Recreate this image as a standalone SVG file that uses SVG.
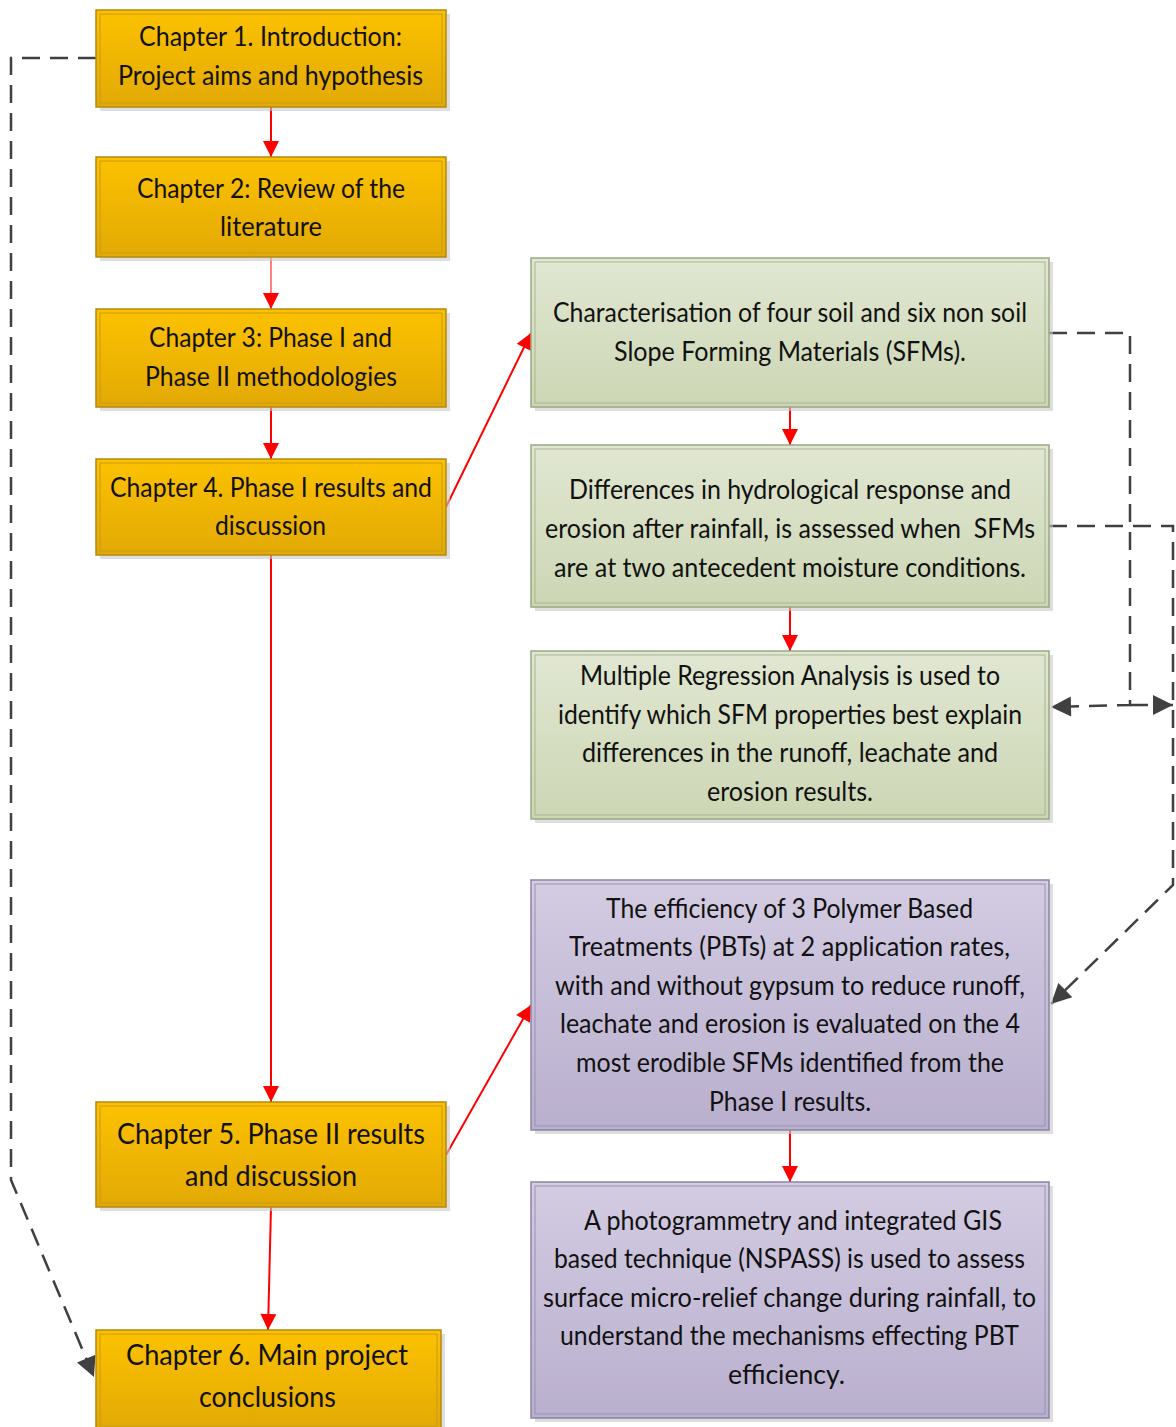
<svg xmlns="http://www.w3.org/2000/svg" width="1176" height="1427" viewBox="0 0 1176 1427">
<defs>
<linearGradient id="gO" x1="0" y1="0" x2="0" y2="1"><stop offset="0" stop-color="#FCC200"/><stop offset="1" stop-color="#E2A905"/></linearGradient>
<linearGradient id="gG" x1="0" y1="0" x2="0" y2="1"><stop offset="0" stop-color="#E1E7D2"/><stop offset="1" stop-color="#CCD6B4"/></linearGradient>
<linearGradient id="gP" x1="0" y1="0" x2="0" y2="1"><stop offset="0" stop-color="#D3CCE2"/><stop offset="1" stop-color="#B9AFCE"/></linearGradient>
<marker id="aR" viewBox="0 0 10 10" refX="10" refY="5" markerWidth="6" markerHeight="6" markerUnits="userSpaceOnUse" orient="auto" style="overflow:visible">
<path d="M0,0 L10,5 L0,10 z" fill="#FF0000" transform="scale(1)"/></marker>
<marker id="aD" viewBox="0 0 10 10" refX="10" refY="5" markerWidth="24" markerHeight="20" markerUnits="userSpaceOnUse" orient="auto">
<path d="M0,0 L10,5 L0,10 z" fill="#404040"/></marker>
<marker id="aRb" viewBox="0 0 10 10" refX="10" refY="5" markerWidth="26" markerHeight="16" markerUnits="userSpaceOnUse" orient="auto">
<path d="M0,0 L10,5 L0,10 z" fill="#FF0000"/></marker>
</defs>
<style>
.sh{fill:#C8C8C8;opacity:0.6}
.o{fill:url(#gO);stroke:#B38A10;stroke-width:1.5}
.oi{fill:none;stroke:#C99A1A;stroke-width:1}
.g{fill:url(#gG);stroke:#99A882;stroke-width:1.5}
.gi{fill:none;stroke:#A8B692;stroke-width:1}
.p{fill:url(#gP);stroke:#8B84A2;stroke-width:1.5}
.pi{fill:none;stroke:#9A92B0;stroke-width:1}
text{font-family:Lato,"Liberation Sans",sans-serif;font-size:26px;fill:#111}
.big{font-size:29px}
.red{stroke:#FF0000;stroke-width:2;fill:none}
.dash{stroke:#404040;stroke-width:2.5;fill:none;stroke-dasharray:18,10}
</style>
<g id="connectors">
<path class="red" d="M271,107 L271,157" marker-end="url(#aRb)"/>
<path class="red" d="M271,257 L271,309" marker-end="url(#aRb)" stroke-opacity="0.5"/>
<path class="red" d="M271,407 L271,459" marker-end="url(#aRb)"/>
<path class="red" d="M271,555 L271,1102" marker-end="url(#aRb)"/>
<path class="red" d="M271,1207 L268,1330" marker-end="url(#aRb)"/>
<path class="red" d="M446,507 L531,333" marker-end="url(#aRb)"/>
<path class="red" d="M446,1155 L531,1005" marker-end="url(#aRb)"/>
<path class="red" d="M790,407 L790,445" marker-end="url(#aRb)"/>
<path class="red" d="M790,607 L790,651" marker-end="url(#aRb)"/>
<path class="red" d="M790,1130 L790,1182" marker-end="url(#aRb)"/>
<path class="dash" d="M96,58 L11,58 L11,1180 L94,1377" marker-end="url(#aD)"/>
<path class="dash" d="M1049,333 L1130,333 L1130,705 L1051,707" marker-end="url(#aD)"/>
<path class="dash" d="M1130,705 L1173,705" marker-end="url(#aD)"/>
<path class="dash" d="M1049,526 L1173,526 L1173,885 L1051,1004" marker-end="url(#aD)"/>
</g>
<g id="ch1"><rect class="sh" x="100" y="14" width="350" height="97"/><rect class="o" x="96" y="10" width="350" height="97"/><rect class="oi" x="100" y="14" width="342" height="89"/>
<text x="139" y="46" textLength="263" lengthAdjust="spacingAndGlyphs">Chapter 1. Introduction:</text>
<text x="118" y="85" textLength="305" lengthAdjust="spacingAndGlyphs">Project aims and hypothesis</text></g>
<g id="ch2"><rect class="sh" x="100" y="161" width="350" height="100"/><rect class="o" x="96" y="157" width="350" height="100"/><rect class="oi" x="100" y="161" width="342" height="92"/>
<text x="137" y="198" textLength="268" lengthAdjust="spacingAndGlyphs">Chapter 2: Review of the</text>
<text x="220" y="236" textLength="102" lengthAdjust="spacingAndGlyphs">literature</text></g>
<g id="ch3"><rect class="sh" x="100" y="313" width="350" height="98"/><rect class="o" x="96" y="309" width="350" height="98"/><rect class="oi" x="100" y="313" width="342" height="90"/>
<text x="149" y="347" textLength="243" lengthAdjust="spacingAndGlyphs">Chapter 3: Phase I and</text>
<text x="145" y="386" textLength="252" lengthAdjust="spacingAndGlyphs">Phase II methodologies</text></g>
<g id="ch4"><rect class="sh" x="100" y="463" width="350" height="96"/><rect class="o" x="96" y="459" width="350" height="96"/><rect class="oi" x="100" y="463" width="342" height="88"/>
<text x="110" y="497" textLength="322" lengthAdjust="spacingAndGlyphs">Chapter 4. Phase I results and</text>
<text x="215" y="535" textLength="111" lengthAdjust="spacingAndGlyphs">discussion</text></g>
<g id="ch5"><rect class="sh" x="100" y="1106" width="350" height="105"/><rect class="o" x="96" y="1102" width="350" height="105"/><rect class="oi" x="100" y="1106" width="342" height="97"/>
<text class="big" x="117" y="1144" textLength="308" lengthAdjust="spacingAndGlyphs">Chapter 5. Phase II results</text>
<text class="big" x="185" y="1186" textLength="172" lengthAdjust="spacingAndGlyphs">and discussion</text></g>
<g id="ch6"><rect class="sh" x="100" y="1334" width="345" height="100"/><rect class="o" x="96" y="1330" width="345" height="100"/><rect class="oi" x="100" y="1334" width="337" height="92"/>
<text class="big" x="126" y="1365" textLength="282" lengthAdjust="spacingAndGlyphs">Chapter 6. Main project</text>
<text class="big" x="199" y="1407" textLength="137" lengthAdjust="spacingAndGlyphs">conclusions</text></g>
<g id="sfm1"><rect class="sh" x="535" y="262" width="518" height="149"/><rect class="g" x="531" y="258" width="518" height="149"/><rect class="gi" x="535" y="262" width="510" height="141"/>
<text x="553" y="322" textLength="474" lengthAdjust="spacingAndGlyphs">Characterisation of four soil and six non soil</text>
<text x="614" y="361" textLength="352" lengthAdjust="spacingAndGlyphs">Slope Forming Materials (SFMs).</text></g>
<g id="sfm2"><rect class="sh" x="535" y="449" width="518" height="162"/><rect class="g" x="531" y="445" width="518" height="162"/><rect class="gi" x="535" y="449" width="510" height="154"/>
<text x="569" y="499" textLength="442" lengthAdjust="spacingAndGlyphs">Differences in hydrological response and</text>
<text x="545" y="538" textLength="490" lengthAdjust="spacingAndGlyphs" xml:space="preserve">erosion after rainfall, is assessed when  SFMs</text>
<text x="554" y="577" textLength="472" lengthAdjust="spacingAndGlyphs">are at two antecedent moisture conditions.</text></g>
<g id="sfm3"><rect class="sh" x="535" y="655" width="518" height="168"/><rect class="g" x="531" y="651" width="518" height="168"/><rect class="gi" x="535" y="655" width="510" height="160"/>
<text x="580" y="685" textLength="420" lengthAdjust="spacingAndGlyphs">Multiple Regression Analysis is used to</text>
<text x="558" y="724" textLength="464" lengthAdjust="spacingAndGlyphs">identify which SFM properties best explain</text>
<text x="582" y="762" textLength="416" lengthAdjust="spacingAndGlyphs">differences in the runoff, leachate and</text>
<text x="707" y="801" textLength="166" lengthAdjust="spacingAndGlyphs">erosion results.</text></g>
<g id="pbt1"><rect class="sh" x="535" y="884" width="518" height="250"/><rect class="p" x="531" y="880" width="518" height="250"/><rect class="pi" x="535" y="884" width="510" height="242"/>
<text x="606" y="918" textLength="367" lengthAdjust="spacingAndGlyphs">The efficiency of 3 Polymer Based</text>
<text x="569" y="956" textLength="441" lengthAdjust="spacingAndGlyphs">Treatments (PBTs) at 2 application rates,</text>
<text x="555" y="995" textLength="470" lengthAdjust="spacingAndGlyphs">with and without gypsum to reduce runoff,</text>
<text x="560" y="1033" textLength="460" lengthAdjust="spacingAndGlyphs">leachate and erosion is evaluated on the 4</text>
<text x="576" y="1072" textLength="428" lengthAdjust="spacingAndGlyphs">most erodible SFMs identified from the</text>
<text x="709" y="1111" textLength="162" lengthAdjust="spacingAndGlyphs">Phase I results.</text></g>
<g id="pbt2"><rect class="sh" x="535" y="1186" width="518" height="236"/><rect class="p" x="531" y="1182" width="518" height="236"/><rect class="pi" x="535" y="1186" width="510" height="228"/>
<text x="584" y="1230" textLength="418" lengthAdjust="spacingAndGlyphs">A photogrammetry and integrated GIS</text>
<text x="554" y="1268" textLength="471" lengthAdjust="spacingAndGlyphs">based technique (NSPASS) is used to assess</text>
<text x="543" y="1307" textLength="493" lengthAdjust="spacingAndGlyphs">surface micro-relief change during rainfall, to</text>
<text x="560" y="1345" textLength="459" lengthAdjust="spacingAndGlyphs">understand the mechanisms effecting PBT</text>
<text x="728" y="1384" textLength="117" lengthAdjust="spacingAndGlyphs">efficiency.</text></g>
</svg>
